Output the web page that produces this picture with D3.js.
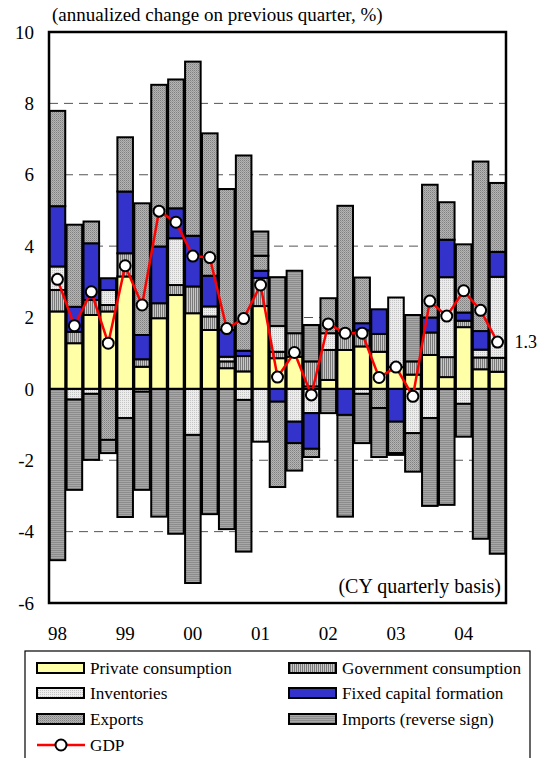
<!DOCTYPE html>
<html><head><meta charset="utf-8">
<script src="https://cdn.jsdelivr.net/npm/d3@7"></script>
<style>body{margin:0;background:#fff;}svg{display:block;}text{font-family:"Liberation Serif","Times New Roman",serif;fill:#000;}</style>
</head><body>
<svg id="c" width="545" height="758"></svg>
<script>
const quarters = ["98Q1","98Q2","98Q3","98Q4","99Q1","99Q2","99Q3","99Q4","00Q1","00Q2","00Q3","00Q4","01Q1","01Q2","01Q3","01Q4","02Q1","02Q2","02Q3","02Q4","03Q1","03Q2","03Q3","03Q4","04Q1","04Q2","04Q3"];
const yearLabels = ["98","99","00","01","02","03","04"];
const yTicks = [-6,-4,-2,0,2,4,6,8,10];
const privateCons = [2.17,1.28,2.07,2.17,3.15,0.62,1.98,2.63,2.12,1.65,0.58,0.49,2.32,0.86,0.90,0.07,0.25,1.09,1.19,1.04,0.61,0.40,0.95,0.33,1.73,0.55,0.48];
const govCons     = [0.60,0.32,0.42,0.18,0.65,0.21,0.42,0.28,0.75,0.38,0.19,0.43,0.79,0.18,0.66,0.70,0.84,0.47,0.45,0.50,0.00,0.37,0.63,0.56,0.18,0.33,0.39];
const inventories = [0.66,-0.30,-0.14,0.42,-0.82,-0.08,0.00,1.31,-1.29,0.28,0.13,-0.31,-1.48,0.72,-0.92,-0.68,0.47,0.00,-0.14,0.00,1.95,-1.24,-0.82,2.24,-0.42,0.22,2.27];
const fixedCap    = [1.69,0.70,1.59,0.33,1.73,0.68,1.59,0.84,1.42,0.86,0.75,0.15,0.20,-0.36,-0.60,-1.00,0.00,-0.73,0.20,0.69,-0.92,0.00,0.42,1.05,0.23,0.52,0.70];
const exportsC    = [2.67,2.30,0.61,-1.43,1.52,3.69,4.53,3.61,4.88,3.99,3.95,5.47,0.42,-2.39,-0.77,-0.23,0.98,3.57,1.28,-0.54,-0.88,-1.08,3.72,1.05,1.91,4.75,1.93];
const importsC    = [-4.80,-2.53,-1.85,-0.37,-2.77,-2.75,-3.58,-4.06,-4.15,-3.51,-3.93,-4.25,0.68,1.37,1.75,1.02,-0.68,-2.85,-1.38,-1.37,-0.05,1.30,-2.46,-3.25,-0.92,-4.20,-4.62];
const gdp         = [3.07,1.77,2.72,1.28,3.45,2.35,4.98,4.67,3.72,3.68,1.69,1.97,2.91,0.33,1.02,-0.17,1.82,1.56,1.56,0.32,0.61,-0.21,2.46,2.04,2.75,2.20,1.31];
const seriesNames = ["Private consumption","Government consumption","Inventories","Fixed capital formation","Exports","Imports (reverse sign)"];
const gdpName = "GDP";
const lastLabel = "1.3";

const svg = d3.select("#c");
const defs = svg.append("defs");
function pat(id, w, h, bg, draw){
  const p = defs.append("pattern").attr("id",id).attr("patternUnits","userSpaceOnUse").attr("width",w).attr("height",h);
  p.append("rect").attr("width",w).attr("height",h).attr("fill",bg);
  draw(p);
}
pat("pGov",2,2,"#c8c8c8",p=>p.append("rect").attr("x",0).attr("y",0).attr("width",1).attr("height",2).attr("fill","#7a7a7a"));
pat("pInv",2,2,"#ececec",p=>{p.append("rect").attr("x",0).attr("y",0).attr("width",1).attr("height",1).attr("fill","#c4c4c4");});
pat("pExp",2,2,"#b4b4b4",p=>{p.append("rect").attr("x",0).attr("y",0).attr("width",1).attr("height",1).attr("fill","#808080");p.append("rect").attr("x",1).attr("y",1).attr("width",1).attr("height",1).attr("fill","#9a9a9a");});
pat("pImp",2,2,"#a8a8a8",p=>p.append("rect").attr("x",0).attr("y",0).attr("width",2).attr("height",1).attr("fill","#8c8c8c"));
const fills = ["#ffffa8","url(#pGov)","url(#pInv)","#3333cc","url(#pExp)","url(#pImp)"];

const L=49,R=506,T=32,B=603;
const x = d3.scaleBand().domain(quarters).range([L,R]).paddingInner(0.08).paddingOuter(0.04);
const y = d3.scaleLinear().domain([-6,10]).range([B,T]);

svg.append("g").selectAll("line").data(yTicks.filter(t=>t!==10&&t!==-6&&t!==0)).join("line")
  .attr("x1",L).attr("x2",R).attr("y1",d=>y(d)).attr("y2",d=>y(d))
  .attr("stroke","#555").attr("stroke-width",1).attr("stroke-dasharray","9,6");

const rows = quarters.map((q,i)=>({q, s0:privateCons[i], s1:govCons[i], s2:inventories[i], s3:fixedCap[i], s4:exportsC[i], s5:importsC[i]}));
const keys = ["s0","s1","s2","s3","s4","s5"];
const stacked = d3.stack().keys(keys).offset(d3.stackOffsetDiverging)(rows);
const bw = x.bandwidth();
stacked.forEach((layer,k)=>{
  svg.append("g").selectAll("rect").data(layer.filter(d=>Math.abs(d[1]-d[0])>1e-6)).join("rect")
    .attr("x",d=>x(d.data.q)).attr("width",bw)
    .attr("y",d=>y(Math.max(d[0],d[1]))).attr("height",d=>Math.abs(y(d[0])-y(d[1])))
    .attr("fill",fills[k]).attr("stroke","#000").attr("stroke-width",2);
});

svg.append("line").attr("x1",L).attr("x2",R).attr("y1",y(0)).attr("y2",y(0)).attr("stroke","#000").attr("stroke-width",1.5);

const cx = q=>x(q)+bw/2;
svg.append("path").datum(gdp).attr("fill","none").attr("stroke","#ff0000").attr("stroke-width",2.5)
  .attr("d",d3.line().x((d,i)=>cx(quarters[i])).y(d=>y(d)));
svg.append("g").selectAll("circle").data(gdp).join("circle")
  .attr("cx",(d,i)=>cx(quarters[i])).attr("cy",d=>y(d)).attr("r",5.5)
  .attr("fill","#fff").attr("stroke","#000").attr("stroke-width",2);
svg.append("text").attr("x",cx(quarters[quarters.length-1])+17).attr("y",y(gdp[gdp.length-1])).attr("dy","0.35em")
  .attr("font-size",18).text(lastLabel);

svg.append("rect").attr("x",L).attr("y",T).attr("width",R-L).attr("height",B-T).attr("fill","none").attr("stroke","#000").attr("stroke-width",2.5);

svg.append("g").selectAll("text").data(yTicks).join("text")
  .attr("x",34).attr("y",d=>y(d)).attr("dy","0.35em").attr("text-anchor","end").attr("font-size",19).text(d=>d);
svg.append("g").selectAll("text").data(yearLabels).join("text")
  .attr("x",(d,i)=>cx(quarters[i*4])).attr("y",640).attr("text-anchor","middle").attr("font-size",19).text(d=>d);

svg.append("text").attr("x",52).attr("y",21).attr("font-size",19).text("(annualized change on previous quarter, %)");
svg.append("text").attr("x",501).attr("y",593).attr("text-anchor","end").attr("font-size",20).text("(CY quarterly basis)");

const lg = svg.append("g");
lg.append("rect").attr("x",25).attr("y",651).attr("width",505).attr("height",120).attr("fill","#fff").attr("stroke","#000").attr("stroke-width",1.2);
const lpos = [[37,668],[289,668],[37,693],[289,693],[37,719],[289,719]];
seriesNames.forEach((n,k)=>{
  const [lx,ly]=lpos[k];
  lg.append("rect").attr("x",lx).attr("y",ly-5).attr("width",47).attr("height",10).attr("fill",fills[k]).attr("stroke","#000").attr("stroke-width",2);
  lg.append("text").attr("x",lx+53).attr("y",ly).attr("dy","0.35em").attr("font-size",17.2).text(n);
});
lg.append("line").attr("x1",37).attr("x2",85).attr("y1",745).attr("y2",745).attr("stroke","#ff0000").attr("stroke-width",2.5);
lg.append("circle").attr("cx",61).attr("cy",745).attr("r",5.5).attr("fill","#fff").attr("stroke","#000").attr("stroke-width",2);
lg.append("text").attr("x",90).attr("y",745).attr("dy","0.35em").attr("font-size",17.2).text(gdpName);
</script>
</body></html>
